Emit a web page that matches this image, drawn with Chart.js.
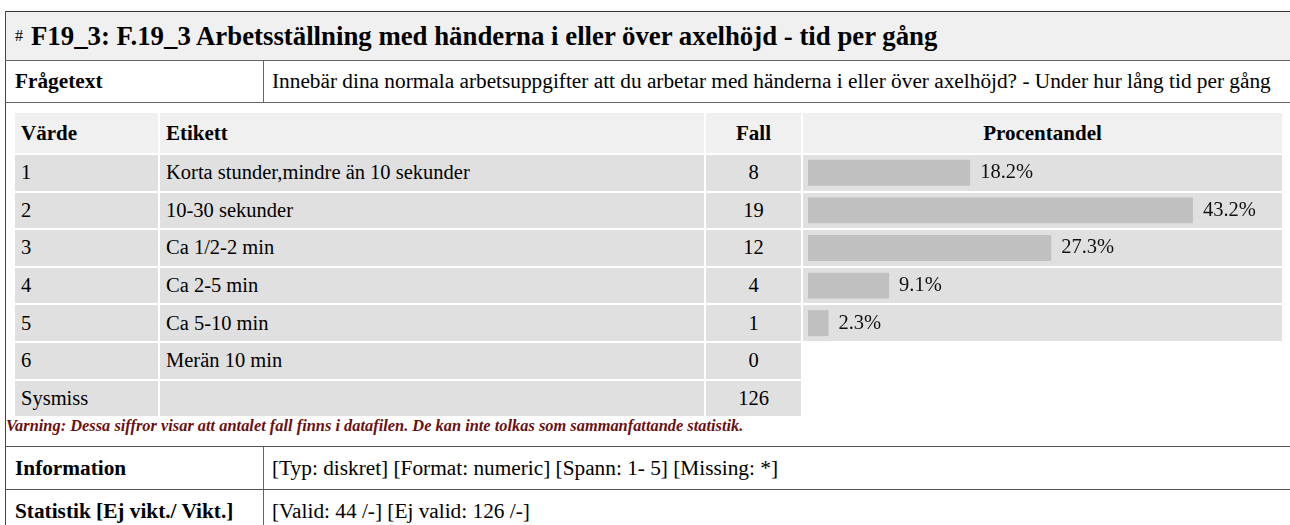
<!DOCTYPE html>
<html>
<head>
<meta charset="utf-8">
<script src="https://cdn.jsdelivr.net/npm/chart.js@4.4.1/dist/chart.umd.min.js"></script>
<style>
    body {
        margin: 0;
        width: 1290px;
        height: 525px;
        overflow: hidden;
        background: #fff;
        font-family: "Liberation Serif", "Times New Roman", serif;
        font-size: 20.5px;
        color: #000;
        position: relative;
    }
    .box { position: absolute; display: flex; align-items: center; box-sizing: border-box; white-space: nowrap; }
    .line { position: absolute; }
    .hd { background: #f0f0f0; font-weight: bold; font-size: 21px; }
    .dc { background: #e0e0e0; }
    .center { justify-content: center; }
    .pad { padding-left: 6px; }
    .outer { font-size: 21.3px; }
    .outer.lbl { padding-left: 9px; font-weight: bold; }
    #warn { color: #6b1010; font-weight: bold; font-style: italic; font-size: 16.4px; }
</style>
</head>
<body>
<div id="page"></div>
<canvas id="pctChart" style="position:absolute;left:803px;top:154px;"></canvas>
<script>
const titleCode = 'F19_3: F.19_3 Arbetsställning med händerna i eller över axelhöjd - tid per gång';
const questionText = 'Innebär dina normala arbetsuppgifter att du arbetar med händerna i eller över axelhöjd? - Under hur lång tid per gång';
const values = ['1', '2', '3', '4', '5', '6', 'Sysmiss'];
const labels = ['Korta stunder,mindre än 10 sekunder', '10-30 sekunder', 'Ca 1/2-2 min', 'Ca 2-5 min', 'Ca 5-10 min', 'Merän 10 min', ''];
const counts = [8, 19, 12, 4, 1, 0, 126];
const percents = [18.2, 43.2, 27.3, 9.1, 2.3];
const infoText = '[Typ: diskret] [Format: numeric] [Spann: 1- 5] [Missing: *]';
const statText = '[Valid: 44 /-] [Ej valid: 126 /-]';
const warnText = 'Varning: Dessa siffror visar att antalet fall finns i datafilen. De kan inte tolkas som sammanfattande statistik.';

const page = document.getElementById('page');

const box = (x, y, w, h, cls, html) => {
    const el = document.createElement('div');
    el.className = 'box ' + (cls || '');
    el.style.left = x + 'px';
    el.style.top = y + 'px';
    el.style.width = w + 'px';
    el.style.height = h + 'px';
    el.innerHTML = html || '';
    page.appendChild(el);
    return el;
};

const line = (x, y, w, h, color) => {
    const el = document.createElement('div');
    el.className = 'line';
    el.style.cssText = `left:${x}px;top:${y}px;width:${w}px;height:${h}px;background:${color};`;
    page.appendChild(el);
};

// outer frame
box(6, 12, 1284, 48, 'hd', '<span style="font-weight:normal;font-size:16px;margin:0 8px 0 9px;">#</span><span style="font-size:26.8px;">' + titleCode + '</span>');
line(5, 11, 1285, 1, '#333');
line(5, 11, 1, 514, '#444');
line(5, 60, 1285, 1, '#666');
box(6, 61, 257, 41, 'outer lbl', 'Frågetext');
box(264, 61, 1020, 41, 'outer', '<span style="padding-left:8px">' + questionText + '</span>');
line(263, 61, 1, 41, '#666');
line(5, 102, 1285, 1, '#666');

// inner frequency table
const cols = [[15, 143], [160, 544], [706, 95], [803, 479]];
box(cols[0][0], 113, cols[0][1], 40, 'hd pad', 'Värde');
box(cols[1][0], 113, cols[1][1], 40, 'hd pad', 'Etikett');
box(cols[2][0], 113, cols[2][1], 40, 'hd center', 'Fall');
box(cols[3][0], 113, cols[3][1], 40, 'hd center', 'Procentandel');

const rowTop = 155;
const pitch = 37.6;
values.forEach((v, i) => {
    const y = rowTop + i * pitch;
    box(cols[0][0], y, cols[0][1], 35.6, 'dc pad', v);
    box(cols[1][0], y, cols[1][1], 35.6, 'dc pad', labels[i]);
    box(cols[2][0], y, cols[2][1], 35.6, 'dc center', String(counts[i]));
    if (i < percents.length) {
        box(cols[3][0], y, cols[3][1], 35.6, 'dc', '');
    }
});

const warn = box(6, 417, 900, 18, '', warnText);
warn.id = 'warn';

line(5, 446, 1285, 1, '#555');
box(6, 447, 257, 42, 'outer lbl', 'Information');
box(264, 447, 1020, 42, 'outer', '<span style="padding-left:8px">' + infoText + '</span>');
line(263, 447, 1, 42, '#666');
line(5, 489, 1285, 1, '#555');
box(6, 490, 257, 42, 'outer lbl', 'Statistik [Ej vikt./ Vikt.]');
box(264, 490, 1020, 42, 'outer', '<span style="padding-left:8px">' + statText + '</span>');
line(263, 490, 1, 42, '#666');

// percentage bars
const canvas = document.getElementById('pctChart');
canvas.width = 479;
canvas.height = 188;

const barLabels = {
    id: 'barLabels',
    afterDatasetsDraw(chart) {
        const ctx = chart.ctx;
        const meta = chart.getDatasetMeta(0);
        ctx.save();
        ctx.fillStyle = '#111';
        ctx.font = '20.5px "Liberation Serif", serif';
        ctx.textBaseline = 'middle';
        meta.data.forEach((bar, i) => {
            ctx.fillText(percents[i].toFixed(1) + '%', bar.x + 10, bar.y);
        });
        ctx.restore();
    },
};

new Chart(canvas, {
    type: 'bar',
    data: {
        labels: values.slice(0, percents.length),
        datasets: [{
            data: percents,
            backgroundColor: '#c0c0c0',
            borderWidth: 0,
            barPercentage: 0.69,
            categoryPercentage: 1,
        }],
    },
    options: {
        indexAxis: 'y',
        responsive: false,
        animation: false,
        layout: { padding: { left: 5, right: 0, top: 0, bottom: 0 } },
        plugins: { legend: { display: false }, tooltip: { enabled: false } },
        scales: {
            x: { display: false, min: 0, max: 53.2 },
            y: { display: false },
        },
    },
    plugins: [barLabels],
});
</script>
</body>
</html>
